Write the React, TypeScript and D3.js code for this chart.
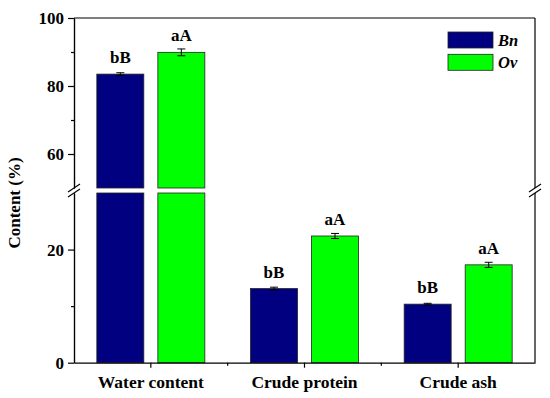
import React, { useEffect, useRef } from "react";
import * as d3 from "d3";

const categories = ["Water content", "Crude protein", "Crude ash"];
const seriesNames = ["Bn", "Ov"];
const bnValues = [83.5, 13.1, 10.35];
const bnErrors = [0.4, 0.25, 0.15];
const ovValues = [89.9, 22.4, 17.3];
const ovErrors = [1.0, 0.45, 0.45];
const bnLetters = ["bB", "bB", "bB"];
const ovLetters = ["aA", "aA", "aA"];
const upperTicks = [60, 80, 100];
const upperMinor = [70, 90];
const lowerTicks = [0, 20];
const lowerMinor = [10];

export default function App() {
  const ref = useRef(null);

  useEffect(() => {
    d3.select(ref.current).selectAll("*").remove();

    const W = 550;
    const H = 398;
    const left = 74;
    const right = 535;
    const top = 18;
    const bottom = 362.7;
    const breakTop = 188; // bottom of upper segment
    const breakBot = 193; // top of lower segment
    const font = "Liberation Serif, Times New Roman, serif";
    const colors = ["#000080", "#00FF00"];

    const svg = d3
      .select(ref.current)
      .append("svg")
      .attr("width", W)
      .attr("height", H)
      .style("position", "absolute")
      .style("left", 0)
      .style("top", 0)
      .style("background", "#fff")
      .style("font-family", font);

    const x = d3.scaleBand().domain(categories).range([left, right]);
    const xs = d3.scaleBand().domain(seriesNames).range([-54, 54]).paddingInner(0.23);
    const yU = d3.scaleLinear().domain([50, 100]).range([breakTop, top]);
    const yL = d3.scaleLinear().domain([0, 30]).range([bottom, breakBot]);
    const yPos = (v) => (v > 30 ? yU(v) : yL(v));

    const rows = categories.map((c, i) => [
      { cat: c, s: "Bn", v: bnValues[i], e: bnErrors[i], lab: bnLetters[i], col: colors[0] },
      { cat: c, s: "Ov", v: ovValues[i], e: ovErrors[i], lab: ovLetters[i], col: colors[1] },
    ]).flat();

    // bars
    rows.forEach((d) => {
      const bx = x(d.cat) + x.bandwidth() / 2 + xs(d.s);
      const bw = xs.bandwidth();
      if (d.v > 30) {
        svg.append("rect").attr("x", bx).attr("width", bw)
          .attr("y", yL(30)).attr("height", bottom - yL(30))
          .attr("fill", d.col).attr("stroke", "#222").attr("stroke-width", 0.8);
        svg.append("rect").attr("x", bx).attr("width", bw)
          .attr("y", yU(d.v)).attr("height", breakTop - yU(d.v))
          .attr("fill", d.col).attr("stroke", "#222").attr("stroke-width", 0.8);
      } else {
        svg.append("rect").attr("x", bx).attr("width", bw)
          .attr("y", yL(d.v)).attr("height", bottom - yL(d.v))
          .attr("fill", d.col).attr("stroke", "#222").attr("stroke-width", 0.8);
      }
      const cx = bx + bw / 2;
      const y1 = yPos(d.v + d.e);
      const y2 = yPos(d.v - d.e);
      svg.append("line").attr("x1", cx).attr("x2", cx).attr("y1", y1).attr("y2", y2)
        .attr("stroke", "#000").attr("stroke-width", 1);
      [y1, y2].forEach((yy) =>
        svg.append("line").attr("x1", cx - 4).attr("x2", cx + 4).attr("y1", yy).attr("y2", yy)
          .attr("stroke", "#000").attr("stroke-width", 1)
      );
      svg.append("text").attr("x", cx).attr("y", yPos(d.v) - 11)
        .attr("text-anchor", "middle").style("font-family", font)
        .attr("font-weight", "bold").attr("font-size", 17).text(d.lab);
    });

    // frame: top and right
    svg.append("line").attr("x1", left).attr("x2", right).attr("y1", top).attr("y2", top)
      .attr("stroke", "#000").attr("stroke-width", 1.2);
    svg.append("line").attr("x1", right).attr("x2", right).attr("y1", top).attr("y2", breakTop)
      .attr("stroke", "#000").attr("stroke-width", 1.2);
    svg.append("line").attr("x1", right).attr("x2", right).attr("y1", breakBot).attr("y2", bottom)
      .attr("stroke", "#000").attr("stroke-width", 1.2);

    const styleAxis = (g) => {
      g.attr("font-family", null);
      g.selectAll("path").attr("stroke", "#000").attr("stroke-width", 1.2);
      g.selectAll("line").attr("stroke", "#000").attr("stroke-width", 1.2);
      g.selectAll("text").style("font-family", font).attr("font-weight", "bold")
        .attr("font-size", 17).attr("fill", "#000");
    };

    // left axis, upper + lower segments
    svg.append("g").attr("transform", `translate(${left},0)`)
      .call(d3.axisLeft(yU).tickValues(upperTicks).tickSize(6).tickSizeOuter(0).tickPadding(4))
      .call(styleAxis);
    svg.append("g").attr("transform", `translate(${left},0)`)
      .call(d3.axisLeft(yU).tickValues(upperMinor).tickSize(3).tickSizeOuter(0).tickFormat(() => ""))
      .call(styleAxis);
    svg.append("g").attr("transform", `translate(${left},0)`)
      .call(d3.axisLeft(yL).tickValues(lowerTicks).tickSize(6).tickSizeOuter(0).tickPadding(4))
      .call(styleAxis);
    svg.append("g").attr("transform", `translate(${left},0)`)
      .call(d3.axisLeft(yL).tickValues(lowerMinor).tickSize(3).tickSizeOuter(0).tickFormat(() => ""))
      .call(styleAxis);

    // bottom axis
    const ax = svg.append("g").attr("transform", `translate(0,${bottom})`)
      .call(d3.axisBottom(x).tickSize(5).tickSizeOuter(0).tickPadding(8))
      .call(styleAxis);
    ax.selectAll("text").attr("font-size", 17.5);
    // minor ticks between categories
    svg.append("g").attr("transform", `translate(0,${bottom})`)
      .selectAll("line")
      .data(categories.slice(1))
      .enter()
      .append("line")
      .attr("x1", (d) => x(d)).attr("x2", (d) => x(d))
      .attr("y1", 0).attr("y2", 3)
      .attr("stroke", "#000").attr("stroke-width", 1.2);

    // break marks
    const mid = (breakTop + breakBot) / 2;
    [left, right].forEach((bx) => {
      [-2.6, 2.6].forEach((off) => {
        svg.append("line")
          .attr("x1", bx - 6).attr("y1", mid + off + 4)
          .attr("x2", bx + 6).attr("y2", mid + off - 4)
          .attr("stroke", "#000").attr("stroke-width", 1.2);
      });
    });

    // y title
    svg.append("text")
      .attr("transform", `translate(20,${203}) rotate(-90)`)
      .attr("text-anchor", "middle")
      .style("font-family", font).attr("font-weight", "bold").attr("font-size", 17)
      .text("Content (%)");

    // legend
    const legend = svg.append("g").attr("transform", "translate(448,32)");
    seriesNames.forEach((s, i) => {
      legend.append("rect").attr("x", 0).attr("y", i * 22.3).attr("width", 45).attr("height", 16)
        .attr("fill", colors[i]).attr("stroke", "#222").attr("stroke-width", 0.8);
      legend.append("text").attr("x", 50).attr("y", i * 22.3 + 13.5)
        .style("font-family", font).attr("font-weight", "bold").attr("font-style", "italic")
        .attr("font-size", 16.5).text(s);
    });
  }, []);

  return <div ref={ref} style={{ width: 550, height: 398 }}></div>;
}
